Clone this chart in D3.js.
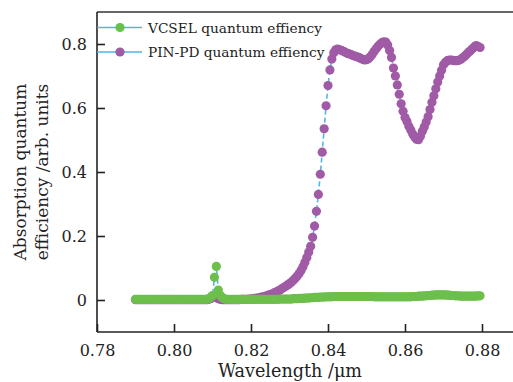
<!DOCTYPE html>
<html>
<head>
<meta charset="utf-8">
<script src="https://cdn.jsdelivr.net/npm/d3@7"></script>
<style>
  html, body { margin: 0; padding: 0; background: #fff; }
  svg { display: block; }
  text { font-family: "DejaVu Serif", serif; fill: #222; }
</style>
</head>
<body>
<svg id="chart" width="513" height="382"></svg>
<script>
// Sampling grid: 0.79 µm to 0.8795 µm in 0.5 nm steps (180 samples)
const wlStart = 0.79;
const wlStep = 0.0005;
const wlCount = 180;

const seriesNames = ["VCSEL quantum effiency", "PIN-PD quantum effiency"];

const vcselQE = [
  0.002,0.002,0.002,0.002,0.002,0.002,0.002,0.002,0.002,0.002,
  0.002,0.002,0.002,0.002,0.002,0.002,0.002,0.002,0.002,0.002,
  0.002,0.002,0.002,0.002,0.002,0.002,0.002,0.002,0.002,0.002,
  0.002,0.002,0.002,0.002,0.002,0.002,0.002,0.002,0.004,0.008,
  0.014,0.071,0.105,0.031,0.015,0.008,0.004,0.002,0.002,0.002,
  0.002,0.002,0.002,0.002,0.002,0.002,0.002,0.002,0.002,0.002,
  0.002,0.002,0.002,0.002,0.002,0.002,0.002,0.002,0.002,0.002,
  0.002,0.002,0.002,0.002,0.002,0.003,0.003,0.003,0.003,0.003,
  0.003,0.003,0.004,0.004,0.004,0.005,0.005,0.005,0.006,0.006,
  0.006,0.007,0.007,0.008,0.008,0.008,0.009,0.009,0.009,0.010,
  0.010,0.010,0.010,0.011,0.011,0.011,0.011,0.011,0.011,0.011,
  0.011,0.011,0.011,0.011,0.011,0.011,0.011,0.011,0.011,0.011,
  0.011,0.011,0.011,0.011,0.010,0.010,0.010,0.010,0.010,0.010,
  0.010,0.010,0.010,0.010,0.010,0.010,0.010,0.010,0.010,0.010,
  0.010,0.010,0.010,0.010,0.011,0.011,0.011,0.012,0.012,0.012,
  0.013,0.013,0.014,0.014,0.015,0.015,0.016,0.016,0.016,0.016,
  0.016,0.016,0.015,0.015,0.014,0.014,0.013,0.013,0.013,0.012,
  0.012,0.012,0.012,0.012,0.012,0.012,0.012,0.012,0.013,0.013
];

const pinpdQE = [
  0.001,0.001,0.001,0.001,0.001,0.001,0.001,0.001,0.001,0.001,
  0.001,0.001,0.001,0.001,0.001,0.001,0.001,0.001,0.001,0.001,
  0.001,0.001,0.001,0.001,0.001,0.001,0.001,0.001,0.001,0.001,
  0.001,0.001,0.001,0.001,0.001,0.001,0.001,0.001,0.002,0.004,
  0.008,0.013,0.009,0.004,0.002,0.001,0.001,0.001,0.001,0.001,
  0.001,0.001,0.001,0.001,0.001,0.002,0.002,0.002,0.002,0.003,
  0.003,0.004,0.005,0.006,0.007,0.008,0.010,0.011,0.013,0.015,
  0.017,0.019,0.022,0.025,0.028,0.031,0.035,0.039,0.043,0.047,
  0.051,0.056,0.062,0.068,0.075,0.083,0.092,0.104,0.118,0.133,
  0.150,0.168,0.196,0.231,0.277,0.330,0.393,0.462,0.535,0.607,
  0.670,0.719,0.753,0.773,0.782,0.784,0.782,0.780,0.777,0.774,
  0.771,0.769,0.767,0.764,0.762,0.760,0.758,0.755,0.752,0.750,
  0.751,0.754,0.760,0.768,0.777,0.785,0.793,0.799,0.804,0.807,
  0.806,0.797,0.780,0.758,0.725,0.700,0.672,0.643,0.613,0.590,
  0.570,0.558,0.543,0.531,0.519,0.509,0.502,0.501,0.512,0.527,
  0.541,0.556,0.573,0.595,0.618,0.638,0.660,0.681,0.700,0.718,
  0.735,0.743,0.748,0.750,0.750,0.749,0.748,0.748,0.749,0.752,
  0.757,0.762,0.768,0.774,0.779,0.785,0.791,0.795,0.792,0.789
];

const xTicks = [0.78, 0.80, 0.82, 0.84, 0.86, 0.88];
const yTicks = [0, 0.2, 0.4, 0.6, 0.8];

const wavelengths = d3.range(wlCount).map(i => +(wlStart + i * wlStep).toFixed(4));

const colors = { vcsel: "#6cbf4b", pinpd: "#a05aa6", line: "#4fb6e8" };

const svg = d3.select("#chart");
const plotLeft = 97, plotRight = 482, plotTop = 12, plotBottom = 332;

const x = d3.scaleLinear().domain([0.78, 0.88]).range([plotLeft, plotRight]);
const y = d3.scaleLinear().domain([-0.1, 0.9]).range([plotBottom, plotTop]);

// Frame: left, bottom and top rules (the right side runs past the canvas)
svg.append("line").attr("x1", plotLeft).attr("x2", 520).attr("y1", plotTop).attr("y2", plotTop)
  .attr("stroke", "#333").attr("stroke-width", 1.6);
svg.append("line").attr("x1", plotLeft).attr("x2", 520).attr("y1", plotBottom).attr("y2", plotBottom)
  .attr("stroke", "#222").attr("stroke-width", 1.6);
svg.append("line").attr("x1", plotLeft).attr("x2", plotLeft).attr("y1", plotTop).attr("y2", plotBottom)
  .attr("stroke", "#222").attr("stroke-width", 1.6);

// Axes with inward ticks
const xAxis = d3.axisBottom(x).tickValues(xTicks).tickFormat(d3.format(".2f"))
  .tickSizeInner(-8).tickSizeOuter(0).tickPadding(13);
const yAxis = d3.axisLeft(y).tickValues(yTicks).tickFormat(d => d === 0 ? "0" : d3.format(".1f")(d))
  .tickSizeInner(-8).tickSizeOuter(0).tickPadding(10);

const gx = svg.append("g").attr("transform", `translate(0,${plotBottom})`).call(xAxis);
const gy = svg.append("g").attr("transform", `translate(${plotLeft},0)`).call(yAxis);
[gx, gy].forEach(g => {
  g.select(".domain").remove();
  g.selectAll(".tick line").attr("stroke", "#222").attr("stroke-width", 1.6);
  g.selectAll(".tick text").attr("font-family", "DejaVu Serif").attr("font-size", 16).attr("fill", "#222");
});

// Axis titles
svg.append("text").attr("x", 290).attr("y", 377).attr("text-anchor", "middle")
  .attr("font-size", 17.6).text("Wavelength /μm");
const yTitle = svg.append("text").attr("transform", "translate(0,172) rotate(-90)")
  .attr("text-anchor", "middle").attr("font-size", 17);
yTitle.append("tspan").attr("x", 0).attr("y", 26).text("Absorption quantum");
yTitle.append("tspan").attr("x", 0).attr("y", 48).text("efficiency /arb. units");

// Series: PIN-PD first so the VCSEL trace sits on top
const series = [
  { values: pinpdQE, color: colors.pinpd },
  { values: vcselQE, color: colors.vcsel }
];
const line = d3.line().x(d => x(d[0])).y(d => y(d[1]));
series.forEach(s => {
  const pts = wavelengths.map((w, i) => [w, s.values[i]]);
  svg.append("path").datum(pts).attr("d", line).attr("fill", "none")
    .attr("stroke", colors.line).attr("stroke-width", 1.6).attr("stroke-dasharray", "5,3");
  svg.append("g").selectAll("circle").data(pts).join("circle")
    .attr("cx", d => x(d[0])).attr("cy", d => y(d[1])).attr("r", 4.6)
    .attr("fill", s.color);
});

// Legend
const legend = svg.append("g");
[{ name: seriesNames[0], color: colors.vcsel, yy: 27.5 },
 { name: seriesNames[1], color: colors.pinpd, yy: 52 }].forEach(e => {
  legend.append("line").attr("x1", 97).attr("x2", 142).attr("y1", e.yy).attr("y2", e.yy)
    .attr("stroke", colors.line).attr("stroke-width", 1.6);
  legend.append("circle").attr("cx", 120).attr("cy", e.yy).attr("r", 4.6).attr("fill", e.color);
  legend.append("text").attr("x", 148).attr("y", e.yy + 5).attr("font-size", 13.7).text(e.name);
});
</script>
</body>
</html>
